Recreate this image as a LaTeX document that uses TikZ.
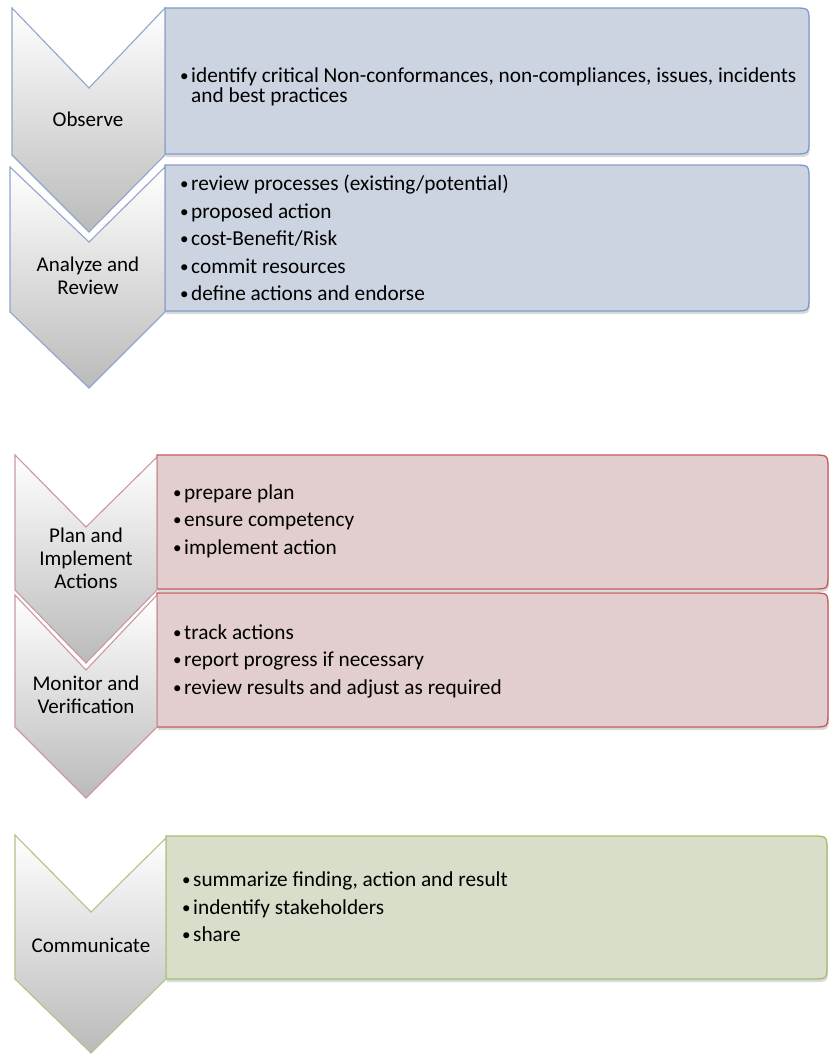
\documentclass[tikz,border=0pt]{standalone}
\usepackage{fontspec}
\setmainfont{Carlito}
\usetikzlibrary{shadows}
\definecolor{azulborde}{HTML}{7F9CC9}
\definecolor{azulfondo}{HTML}{CDD4E1}
\definecolor{azulchev}{HTML}{8FA5CB}
\definecolor{rojoborde}{HTML}{C65A5E}
\definecolor{rojofondo}{HTML}{E3CECF}
\definecolor{rojochev}{HTML}{C9999F}
\definecolor{verdeborde}{HTML}{A3BF6E}
\definecolor{verdefondo}{HTML}{D8DEC9}
\definecolor{verdechev}{HTML}{AFC48A}
\newcommand{\vin}{\makebox[11pt][l]{\raisebox{1pt}{\fontsize{17}{17}\selectfont\textbullet}}}
\tikzset{
  chevron/.style={line width=1.1pt, top color=white, middle color=black!9, bottom color=black!27, line join=miter},
  chevazul/.style={chevron, draw=azulchev},
  chevrojo/.style={chevron, draw=rojochev},
  chevverde/.style={chevron, draw=verdechev},
  caja/.style={line width=1.3pt, drop shadow={shadow xshift=1pt, shadow yshift=-3pt, opacity=0.25, fill=black!60}},
  cajaazul/.style={caja, draw=azulborde, fill=azulfondo},
  cajaroja/.style={caja, draw=rojoborde, fill=rojofondo},
  cajaverde/.style={caja, draw=verdeborde, fill=verdefondo},
  etiqueta/.style={align=center, inner sep=0pt, font=\fontsize{21}{23}\selectfont},
  lista/.style={align=left, anchor=west, inner sep=0pt, font=\fontsize{21.3}{20}\selectfont}
}
\begin{document}
\begin{tikzpicture}[x=1pt, y=-1pt]
  \useasboundingbox (0,0) rectangle (829,1057);
  % cajas de texto
  \draw[cajaazul] (165,154) -- (165,8) -- (794,8) .. controls (809,8) .. (809,23) -- (809,139) .. controls (809,154) .. (794,154) -- cycle;
  \draw[cajaazul] (165,311) -- (165,165) -- (794,165) .. controls (809,165) .. (809,180) -- (809,296) .. controls (809,311) .. (794,311) -- cycle;
  \draw[cajaroja] (157,589) -- (157,455) -- (813,455) .. controls (828,455) .. (828,470) -- (828,574) .. controls (828,589) .. (813,589) -- cycle;
  \draw[cajaroja] (157,727) -- (157,593) -- (813,593) .. controls (828,593) .. (828,608) -- (828,712) .. controls (828,727) .. (813,727) -- cycle;
  \draw[cajaverde] (166,979) -- (166,836) -- (812,836) .. controls (827,836) .. (827,851) -- (827,964) .. controls (827,979) .. (812,979) -- cycle;
  % chevrones
  \draw[chevazul] (12,8) -- (89,88) -- (165,8) -- (165,155) -- (89,232) -- (12,155) -- cycle;
  \draw[chevazul] (10,167) -- (89,242) -- (165,167) -- (165,312) -- (89,388) -- (10,312) -- cycle;
  \draw[chevrojo] (15,455) -- (86,527) -- (157,457) -- (157,590) -- (86,663) -- (15,590) -- cycle;
  \draw[chevrojo] (15,595) -- (86,670) -- (157,595) -- (157,727) -- (86,798) -- (15,727) -- cycle;
  \draw[chevverde] (15,835) -- (91,912) -- (166,838) -- (166,979) -- (91,1053) -- (15,979) -- cycle;
  % etiquetas
  \node (obs) [etiqueta] at (88,119) {Observe};
  \node (ana) [etiqueta] at (88,276) {Analyze and\\Review};
  \node (plan) [etiqueta] at (86,558) {Plan and\\Implement\\Actions};
  \node (mon) [etiqueta] at (86,695) {Monitor and\\Verification};
  \node (com) [etiqueta] at (91,945) {Communicate};
  % listas
  \node (obslista) [lista] at (180,87) {\vin identify critical Non-conformances, non-compliances, issues, incidents\\\hspace*{11pt}and best practices};
  \node (analista) [lista] at (180,238) {\vin review processes (existing/potential)\\[7.5pt]\vin proposed action\\[7.5pt]\vin cost-Benefit/Risk\\[7.5pt]\vin commit resources\\[7.5pt]\vin define actions and endorse};
  \node (planlista) [lista] at (173,521) {\vin prepare plan\\[7.5pt]\vin ensure competency\\[7.5pt]\vin implement action};
  \node (monlista) [lista] at (173,661) {\vin track actions\\[7.5pt]\vin report progress if necessary\\[7.5pt]\vin review results and adjust as required};
  \node (comlista) [lista] at (182,907) {\vin summarize finding, action and result\\[7.5pt]\vin indentify stakeholders\\[7.5pt]\vin share};
\end{tikzpicture}
\end{document}
